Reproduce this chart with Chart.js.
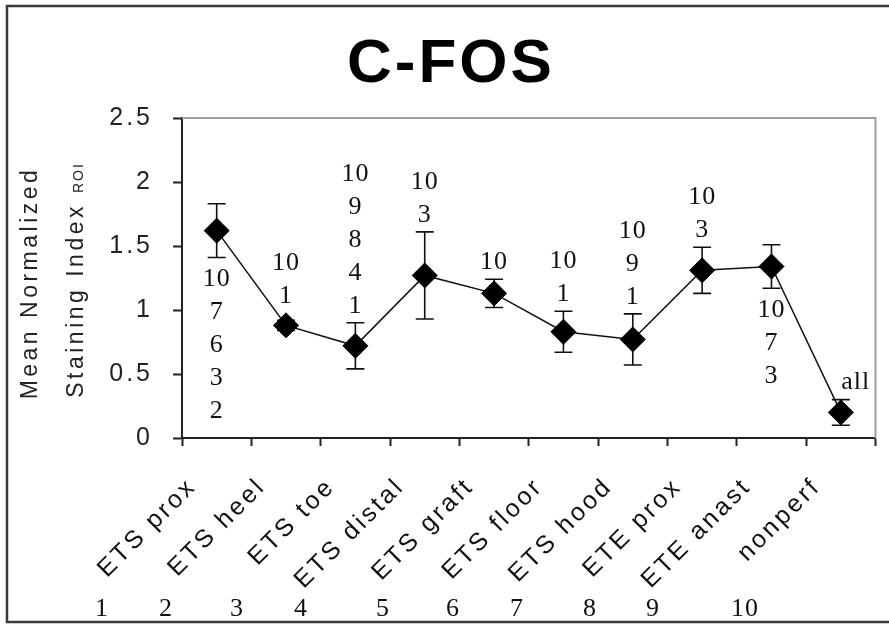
<!DOCTYPE html>
<html><head><meta charset="utf-8">
<script src="https://cdn.jsdelivr.net/npm/chart.js@4"></script>
<style>html,body{margin:0;padding:0;background:#fff;overflow:hidden}</style>
</head><body>
<canvas id="c" width="889" height="625"></canvas>
<script>
// ---- data ----
const categories = ['ETS prox', 'ETS heel', 'ETS toe', 'ETS distal', 'ETS graft', 'ETS floor', 'ETS hood', 'ETE prox', 'ETE anast', 'nonperf'];
const meanValues = [1.62, 0.88, 0.72, 1.27, 1.13, 0.83, 0.77, 1.31, 1.34, 0.20];
const errorValues = [0.21, 0.04, 0.18, 0.34, 0.11, 0.16, 0.20, 0.18, 0.17, 0.10];
const yTicks = [0, 0.5, 1, 1.5, 2, 2.5];
const yTickLabels = ['0', '0.5', '1', '1.5', '2', '2.5'];
const sigLabels = [['10','7','6','3','2'], ['10','1'], ['10','9','8','4','1'], ['10','3'], ['10'], ['10','1'], ['10','9','1'], ['10','3'], ['10','7','3'], ['all']];
const sigSide = ['below','above','above','above','above','above','above','above','below','above'];
const footerNumbers = ['1','2','3','4','5','6','7','8','9','10'];
const titleText = 'C-FOS';
const yTitleLine1 = 'Mean Normalized';
const yTitleLine2 = 'Staining Index';
const yTitleSub = 'ROI';

// ---- layout (pixels) ----
const footerX = [102, 166, 237, 301, 383, 453, 517, 590, 653, 745];
const sigDx = [0, 0, 0, 0, 0, 0, 0, 0, 0, 15];

const deco = {
  id: 'deco',
  beforeLayout(chart) { chart.ctx.letterSpacing = '3px'; },
  beforeDraw(chart) {
    const ctx = chart.ctx;
    ctx.letterSpacing = '3px';
    ctx.save();
    ctx.fillStyle = '#fff';
    ctx.fillRect(0, 0, chart.width, chart.height);
    ctx.strokeStyle = '#3a3a3a';
    ctx.lineWidth = 2.5;
    ctx.strokeRect(7, 6, 900, 616);
    // title
    ctx.fillStyle = '#000';
    ctx.font = 'bold 62px "Liberation Sans"';
    ctx.letterSpacing = '3px';
    ctx.textAlign = 'center';
    ctx.textBaseline = 'alphabetic';
    ctx.fillText(titleText, 451, 82);
    ctx.restore();
  },
  beforeDatasetsDraw(chart) {
    const ctx = chart.ctx, a = chart.chartArea;
    const xs = chart.scales.x, ys = chart.scales.y;
    ctx.save();
    ctx.strokeStyle = '#a0a0a0';
    ctx.lineWidth = 2;
    ctx.beginPath();
    ctx.moveTo(a.left, a.top); ctx.lineTo(a.right, a.top); ctx.lineTo(a.right, a.bottom);
    ctx.stroke();
    // error bars
    ctx.strokeStyle = '#111';
    ctx.lineWidth = 1.6;
    meanValues.forEach((v, i) => {
      const x = xs.getPixelForValue(i);
      const yt = ys.getPixelForValue(v + errorValues[i]);
      const yb = ys.getPixelForValue(v - errorValues[i]);
      ctx.beginPath();
      ctx.moveTo(x, yt); ctx.lineTo(x, yb);
      ctx.moveTo(x - 9, yt); ctx.lineTo(x + 9, yt);
      ctx.moveTo(x - 9, yb); ctx.lineTo(x + 9, yb);
      ctx.stroke();
    });
    ctx.restore();
  },
  afterDatasetsDraw(chart) {
    const ctx = chart.ctx;
    const xs = chart.scales.x, ys = chart.scales.y;
    ctx.save();
    ctx.letterSpacing = '1px';
    ctx.font = '26px "Liberation Serif"';
    ctx.fillStyle = '#111';
    ctx.textAlign = 'center';
    ctx.textBaseline = 'middle';
    sigLabels.forEach((lines, i) => {
      const v = meanValues[i];
      const x = xs.getPixelForValue(i) + sigDx[i];
      const py = ys.getPixelForValue(v);
      const n = lines.length;
      if (sigSide[i] === 'above') {
        const yb = Math.min(ys.getPixelForValue(v + errorValues[i]), py - 12) - 17;
        lines.forEach((t, k) => ctx.fillText(t, x, yb - 33 * (n - 1 - k)));
      } else {
        const yt = Math.max(ys.getPixelForValue(v - errorValues[i]), py + 12) + 22;
        lines.forEach((t, k) => ctx.fillText(t, x, yt + 33 * k));
      }
    });
    ctx.restore();
  },
  afterDraw(chart) {
    const ctx = chart.ctx;
    ctx.save();
    // y axis title
    ctx.fillStyle = '#222';
    ctx.letterSpacing = '3.5px';
    ctx.textBaseline = 'alphabetic';
    ctx.font = '23px "Liberation Sans"';
    ctx.save();
    ctx.translate(37, 283);
    ctx.rotate(-Math.PI / 2);
    ctx.textAlign = 'center';
    ctx.fillText(yTitleLine1, 0, 0);
    ctx.restore();
    ctx.save();
    ctx.translate(83, 280);
    ctx.rotate(-Math.PI / 2);
    ctx.textAlign = 'left';
    const w1 = ctx.measureText(yTitleLine2 + ' ').width;
    ctx.font = '14px "Liberation Sans"';
    ctx.letterSpacing = '2px';
    const w2 = ctx.measureText(yTitleSub).width;
    const start = -(w1 + w2) / 2;
    ctx.letterSpacing = '3.5px';
    ctx.font = '23px "Liberation Sans"';
    ctx.fillText(yTitleLine2 + ' ', start, 0);
    ctx.letterSpacing = '2px';
    ctx.font = '14px "Liberation Sans"';
    ctx.fillText(yTitleSub, start + w1, 0);
    ctx.restore();
    // footer numbers
    ctx.letterSpacing = '1px';
    ctx.font = '26px "Liberation Serif"';
    ctx.fillStyle = '#111';
    ctx.textAlign = 'center';
    ctx.textBaseline = 'middle';
    footerNumbers.forEach((t, i) => ctx.fillText(t, footerX[i], 609));
    ctx.restore();
  }
};

new Chart(document.getElementById('c'), {
  type: 'line',
  data: {
    labels: categories,
    datasets: [{
      data: meanValues,
      borderColor: '#111',
      borderWidth: 1.5,
      pointStyle: 'rectRot',
      pointRadius: 12.5,
      pointHoverRadius: 12.5,
      pointBackgroundColor: '#000',
      pointBorderColor: '#000',
      pointBorderWidth: 1,
      tension: 0,
      fill: false
    }]
  },
  options: {
    responsive: false,
    devicePixelRatio: 1,
    animation: false,
    events: [],
    layout: { padding: { left: 0, right: 11, top: 118, bottom: 0 } },
    plugins: {
      legend: { display: false },
      tooltip: { enabled: false },
      title: { display: false }
    },
    scales: {
      x: {
        offset: true,
        grid: { offset: true, drawOnChartArea: false, drawTicks: true, tickLength: 8, tickColor: '#222', tickWidth: 2 },
        border: { color: '#222', width: 2 },
        ticks: {
          autoSkip: false, minRotation: 45, maxRotation: 45,
          labelOffset: -24, padding: 26,
          color: '#111',
          font: { family: '"Liberation Sans"', size: 25 }
        },
        afterFit(s) { s.height = 187; s.paddingLeft = 0; s.paddingRight = 0; }
      },
      y: {
        min: 0, max: 2.5,
        afterBuildTicks(s) { s.ticks = yTicks.map(v => ({ value: v })); },
        grid: { drawOnChartArea: false, drawTicks: true, tickLength: 9, tickColor: '#222', tickWidth: 2 },
        border: { color: '#222', width: 2 },
        ticks: {
          padding: 20,
          color: '#222',
          font: { family: '"Liberation Sans"', size: 25 },
          callback(v) { const i = yTicks.indexOf(v); return i >= 0 ? yTickLabels[i] : ''; }
        },
        afterFit(s) { s.width = 182; s.paddingTop = 0; s.paddingBottom = 0; }
      }
    }
  },
  plugins: [deco]
});
</script>
</body></html>
